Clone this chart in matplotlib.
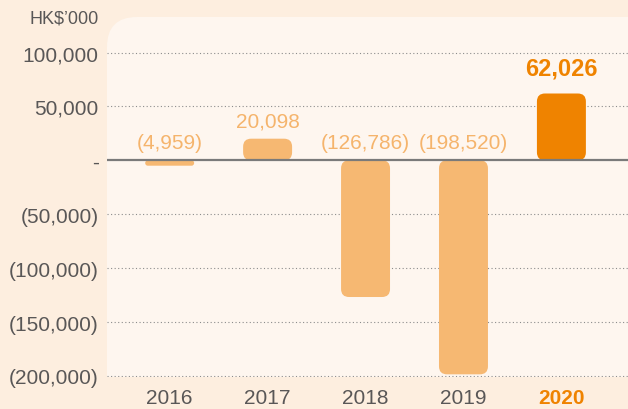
import matplotlib
matplotlib.use("Agg")
import matplotlib.pyplot as plt
from matplotlib.patches import FancyBboxPatch, PathPatch
from matplotlib.path import Path

plt.rcParams["font.family"] = ["Liberation Sans", "DejaVu Sans"]

# ── Data ──
years = ["2016", "2017", "2018", "2019", "2020"]
values = [-4959, 20098, -126786, -198520, 62026]
value_labels = ["(4,959)", "20,098", "(126,786)", "(198,520)", "62,026"]
yticks = [100000, 50000, 0, -50000, -100000, -150000, -200000]
ytick_labels = ["100,000", "50,000", "-", "(50,000)", "(100,000)", "(150,000)", "(200,000)"]
unit_label = "HK$\u2019000"

# ── Colours ──
BG_OUTER = "#FDEEDF"
BG_PANEL = "#FEF6EF"
LIGHT = "#F6B872"
DARK = "#EF8300"
TEXT_GREY = "#595757"

W, H = 628, 410
fig = plt.figure(figsize=(W / 100, H / 100), dpi=100, facecolor=BG_OUTER)

# panel with rounded top-left corner (pixel coords -> inches)
px_l, px_t, px_b, rad = 107, 18, 378, 30
x0, x1 = px_l / 100, W / 100
y0, y1 = (H - px_b) / 100, (H - px_t) / 100
r = rad / 100
verts = [(x0, y0), (x1, y0), (x1, y1), (x0 + r, y1), (x0, y1), (x0, y1 - r), (x0, y0)]
codes = [Path.MOVETO, Path.LINETO, Path.LINETO, Path.LINETO,
         Path.CURVE3, Path.CURVE3, Path.CLOSEPOLY]
fig.patches.append(PathPatch(Path(verts, codes), transform=fig.dpi_scale_trans,
                             facecolor=BG_PANEL, edgecolor="none", zorder=-5))

ax = fig.add_axes([px_l / W, (H - px_b) / H, 1 - px_l / W, (px_b - px_t) / H])
ax.set_zorder(1)
ax.set_facecolor("none")
ax.set_xlim(-0.64, 4.68)
ax.set_ylim(-201000, 133000)

for s in ax.spines.values():
    s.set_visible(False)

# gridlines
for t in yticks:
    if t != 0:
        ax.axhline(t, color="#8c8c8c", lw=0.8, ls=(0, (1, 2.2)), zorder=1)
ax.axhline(0, color="#7a7a7a", lw=1.6, zorder=4)

# bars (rounded)
colors = [LIGHT] * 4 + [DARK]
bars = ax.bar(range(len(years)), values, width=0.5, color=colors)
px_per_x = (W - px_l) / (4.68 + 0.64)
px_per_y = (px_b - px_t) / (133000 + 201000)
corner = 8  # px
aspect = (1 / px_per_y) / (1 / px_per_x)
for b in bars:
    b.set_visible(False)
    bx, by = b.get_x(), b.get_y()
    bw, bh = b.get_width(), b.get_height()
    if bh < 0:
        by, bh = by + bh, -bh
    rs = min(corner / px_per_x, (bh * px_per_y / 2) / px_per_x)
    p = FancyBboxPatch((bx, by), bw, bh,
                       boxstyle=f"round,pad=0,rounding_size={rs}",
                       mutation_aspect=aspect,
                       facecolor=b.get_facecolor(), edgecolor="none", zorder=3)
    ax.add_patch(p)

# value labels
for i, (v, lab) in enumerate(zip(values, value_labels)):
    last = i == len(values) - 1
    ax.annotate(lab, (i, max(v, 0)), xytext=(0, 10 if last else 6),
                textcoords="offset points", ha="center", va="bottom",
                fontsize=17 if last else 15, fontweight="bold" if last else "normal",
                color=DARK if last else "#F5B46C", zorder=5)

# axes ticks
ax.set_yticks(yticks)
ax.set_yticklabels(ytick_labels)
ax.set_xticks(range(len(years)))
ax.set_xticklabels(years)
ax.tick_params(axis="y", length=0, pad=6, labelsize=15, labelcolor=TEXT_GREY)
ax.tick_params(axis="x", length=0, pad=8, labelsize=15, labelcolor=TEXT_GREY)
last_tick = ax.get_xticklabels()[-1]
last_tick.set_color(DARK)
last_tick.set_fontweight("bold")

fig.text(99 / W, 1 - 19 / H, unit_label, ha="right", va="center",
         fontsize=13, color=TEXT_GREY)

fig.savefig("out.png", dpi=100, facecolor=BG_OUTER)
